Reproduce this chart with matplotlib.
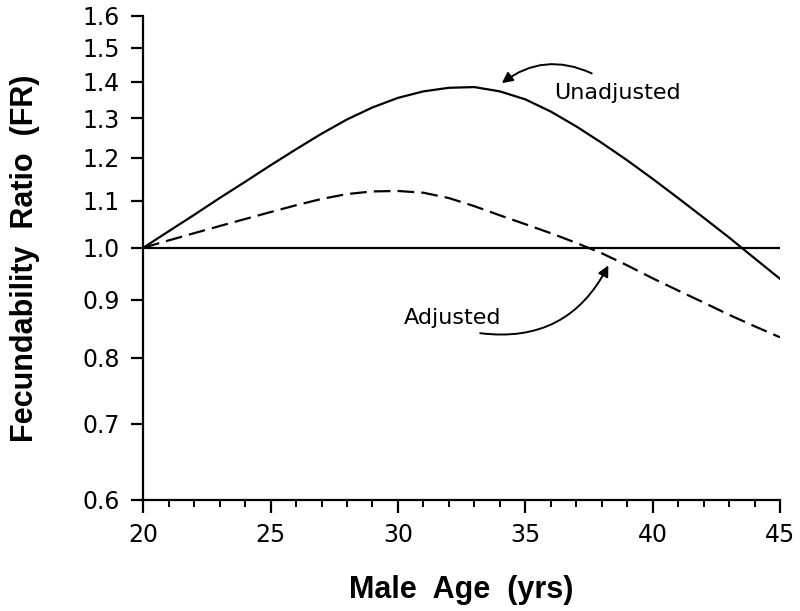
import numpy as np
import matplotlib.pyplot as plt
from matplotlib.ticker import FixedLocator, FixedFormatter, NullLocator

# male age (yrs)
age = [20, 21, 22, 23, 24, 25, 26, 27, 28, 29, 30, 31, 32,
       33, 34, 35, 36, 37, 38, 39, 40, 41, 42, 43, 44, 45]
# fecundability ratio
unadjusted = [1.000, 1.034, 1.069, 1.106, 1.143, 1.182, 1.221, 1.260, 1.297,
              1.329, 1.355, 1.373, 1.383, 1.385, 1.373, 1.351, 1.318, 1.279,
              1.237, 1.194, 1.150, 1.106, 1.063, 1.021, 0.979, 0.939]
adjusted = [1.000, 1.015, 1.030, 1.045, 1.060, 1.075, 1.090, 1.104, 1.115,
            1.121, 1.122, 1.118, 1.106, 1.088, 1.068, 1.049, 1.030, 1.010,
            0.989, 0.965, 0.940, 0.917, 0.895, 0.873, 0.853, 0.834]

yticks = [0.6, 0.7, 0.8, 0.9, 1.0, 1.1, 1.2, 1.3, 1.4, 1.5, 1.6]
xticks = [20, 25, 30, 35, 40, 45]

fig = plt.figure(figsize=(8, 6.11), dpi=100)
ax = fig.add_subplot(111)
fig.subplots_adjust(left=0.179, right=0.975, top=0.974, bottom=0.182)

ax.plot(age, unadjusted, color='black', lw=1.6)
ax.plot(age, adjusted, color='black', lw=1.6, dashes=(7.5, 3.2))
ax.plot([age[0], age[-1]], [1.0, 1.0], color='black', lw=1.6)

ax.set_yscale('log')
ax.set_xlim(20, 45)
ax.set_ylim(0.6, 1.6)
ax.yaxis.set_major_locator(FixedLocator(yticks))
ax.yaxis.set_major_formatter(FixedFormatter(['%.1f' % v for v in yticks]))
ax.yaxis.set_minor_locator(NullLocator())
ax.xaxis.set_major_locator(FixedLocator(xticks))
ax.xaxis.set_minor_locator(FixedLocator(range(20, 46)))

for s in ['top', 'right']:
    ax.spines[s].set_visible(False)
for s in ['left', 'bottom']:
    ax.spines[s].set_linewidth(1.6)
ax.tick_params(axis='both', which='major', length=9, width=1.6, labelsize=17, pad=8)
ax.tick_params(axis='x', which='minor', length=5, width=1.4)

ax.set_xlabel('Male  Age  (yrs)', fontsize=22, fontweight='bold',
              family='Liberation Sans', labelpad=20)
ax.set_ylabel('Fecundability  Ratio  (FR)', fontsize=22, fontweight='bold',
              family='Liberation Sans', labelpad=30)

# labels with curved arrows
ax.text(38.6, 1.368, 'Unadjusted', fontsize=16, ha='center', va='center')
ax.annotate('', xy=(34.08, 1.396), xytext=(37.61, 1.424),
            arrowprops=dict(arrowstyle='-|>', color='black', lw=1.4,
                            mutation_scale=16, shrinkA=0, shrinkB=0,
                            connectionstyle='arc3,rad=0.3'))
ax.text(32.13, 0.868, 'Adjusted', fontsize=16, ha='center', va='center')
ax.annotate('', xy=(38.26, 0.965), xytext=(33.23, 0.841),
            arrowprops=dict(arrowstyle='-|>', color='black', lw=1.4,
                            mutation_scale=16, shrinkA=0, shrinkB=0,
                            connectionstyle='arc3,rad=0.35'))

plt.savefig('out.png')
